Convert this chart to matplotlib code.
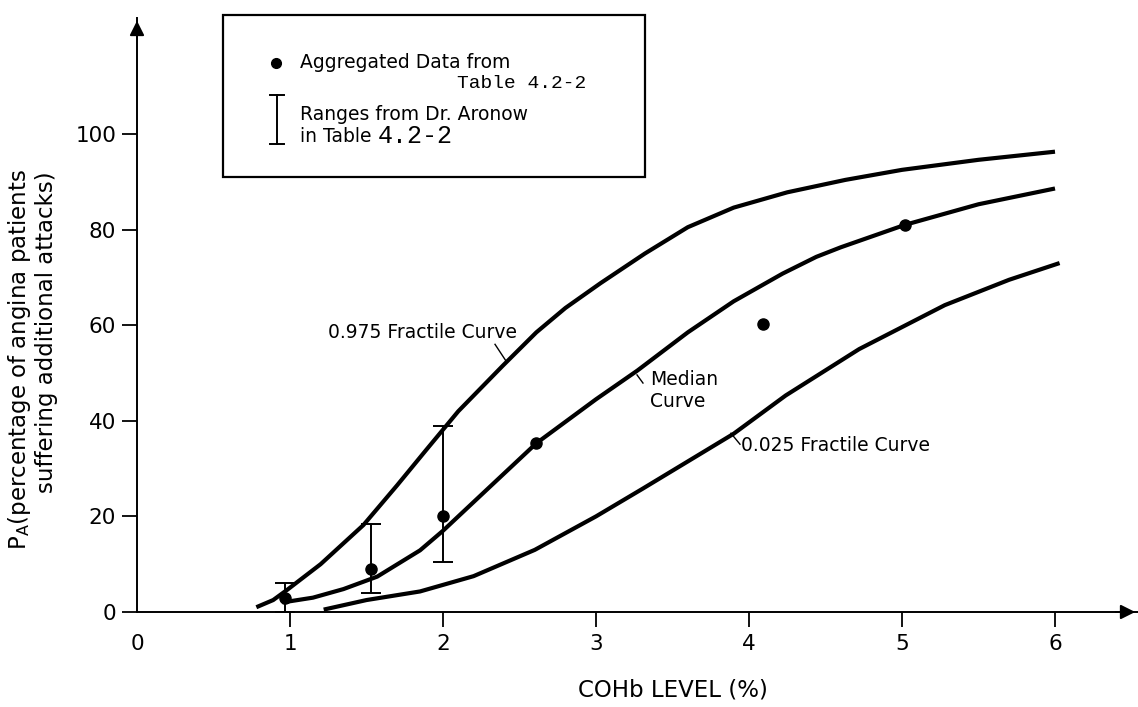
import numpy as np
import matplotlib.pyplot as plt
from matplotlib.lines import Line2D
from matplotlib.patches import Rectangle

# values
upper_x = [0.78, 0.89, 0.98, 1.2, 1.48, 1.7, 1.89, 2.1, 2.39, 2.61, 2.8, 3.03, 3.32, 3.6, 3.9, 4.25, 4.63, 5.0, 5.5, 6.0]
upper_y = [1.0, 2.5, 4.6, 10.0, 18.2, 26.5, 33.9, 42.0, 51.5, 58.5, 63.6, 68.8, 75.0, 80.5, 84.6, 87.8, 90.4, 92.5, 94.6, 96.3]

median_x = [0.95, 1.15, 1.35, 1.57, 1.85, 2.0, 2.3, 2.61, 3.0, 3.27, 3.6, 3.9, 4.22, 4.44, 4.6, 5.02, 5.5, 6.0]
median_y = [2.0, 3.0, 4.8, 7.4, 12.9, 17.0, 26.0, 35.3, 44.5, 50.5, 58.5, 65.0, 70.8, 74.3, 76.3, 81.0, 85.3, 88.6]

lower_x = [1.22, 1.5, 1.85, 2.2, 2.6, 3.0, 3.3, 3.6, 3.9, 4.24, 4.72, 5.28, 5.7, 6.03]
lower_y = [0.5, 2.5, 4.3, 7.5, 13.0, 20.0, 25.7, 31.5, 37.3, 45.3, 55.0, 64.2, 69.5, 73.0]

dot_x = [0.97, 1.53, 2.0, 2.61, 4.09, 5.02]
dot_y = [3.0, 9.0, 20.0, 35.4, 60.3, 81.0]

err_x = [0.97, 1.53, 2.0]
err_lo = [0.0, 4.0, 10.5]
err_hi = [6.0, 18.5, 39.0]

x_ticks = [0, 1, 2, 3, 4, 5, 6]
y_ticks = [0, 20, 40, 60, 80, 100]

W, H = 1138, 707


def fx(px):
    return px / W


def fy(py):
    return 1 - py / H


fig = plt.figure(figsize=(W / 100, H / 100), dpi=100)
ax = fig.add_axes([fx(137), fy(612), fx(1138) - fx(137), fy(18) - fy(612)])
ax.set_xlim(0, 1001 / 153)
ax.set_ylim(0, 594 / 4.78)

# curves
for cx, cy in [(upper_x, upper_y), (median_x, median_y), (lower_x, lower_y)]:
    ax.plot(cx, cy, color='black', lw=3.0, solid_capstyle='butt')

# ranges
err_mid = [(lo + hi) / 2 for lo, hi in zip(err_lo, err_hi)]
err_half = [(hi - lo) / 2 for lo, hi in zip(err_lo, err_hi)]
ax.errorbar(err_x, err_mid, yerr=err_half, fmt='none', ecolor='black',
            elinewidth=1.4, capsize=7, capthick=1.4, clip_on=False)

# aggregated data
ax.plot(dot_x, dot_y, 'o', color='black', ms=8, clip_on=False)

# axes styling
for side in ['top', 'right']:
    ax.spines[side].set_visible(False)
for side in ['left', 'bottom']:
    ax.spines[side].set_linewidth(1.4)
ax.set_xticks(x_ticks)
ax.set_yticks(y_ticks)
ax.tick_params(direction='out', length=11, width=1.3, labelsize=15.5, pad=4)
ax.tick_params(axis='x', pad=5)
ax.xaxis.get_major_ticks()[0].tick1line.set_visible(False)

ax.annotate('', xy=(1, 0), xytext=(0.975, 0), xycoords='axes fraction',
            arrowprops=dict(arrowstyle='-|>', color='black', lw=1.4, mutation_scale=22))
ax.annotate('', xy=(0, 1), xytext=(0, 0.96), xycoords='axes fraction',
            arrowprops=dict(arrowstyle='-|>', color='black', lw=1.4, mutation_scale=22))

# curve labels
ax.plot([2.34, 2.41], [56.0, 52.6], color='black', lw=1)
ax.text(1.863, 58.4, '0.975 Fractile Curve', ha='center', va='center', fontsize=13.5)
ax.plot([3.268, 3.307], [49.6, 47.9], color='black', lw=1)
ax.text(3.353, 50.6, 'Median\nCurve', ha='left', va='top', fontsize=13.5, linespacing=1.2)
ax.plot([3.882, 3.941], [37.4, 35.1], color='black', lw=1)
ax.text(3.948, 34.8, '0.025 Fractile Curve', ha='left', va='center', fontsize=13.5)

# axis titles
fig.text(fx(20), fy(359), r'P$_\mathregular{A}$(percentage of angina patients',
         rotation=90, ha='center', va='center', fontsize=16.5)
fig.text(fx(47), fy(332), 'suffering additional attacks)',
         rotation=90, ha='center', va='center', fontsize=16.5)
fig.text(fx(137 + 3.5 * 153), fy(690), 'COHb LEVEL (%)', ha='center', va='center', fontsize=16.5)

# legend box
fig.add_artist(Rectangle((fx(223), fy(177)), fx(645) - fx(223), fy(15) - fy(177),
                         transform=fig.transFigure, fill=False, lw=1.6, ec='black'))
fig.add_artist(Line2D([fx(276)], [fy(63)], marker='o', ms=7, color='black',
                      transform=fig.transFigure))
fig.text(fx(300), fy(63), 'Aggregated Data from', va='center', fontsize=13.5)
fig.text(fx(457), fy(84), 'Table 4.2-2', ha='left', va='center', fontsize=14,
         family='Liberation Mono')
fig.add_artist(Line2D([fx(277), fx(277)], [fy(95), fy(144)], lw=1.4, color='black',
                      transform=fig.transFigure))
for cy in [95, 144]:
    fig.add_artist(Line2D([fx(270), fx(284)], [fy(cy), fy(cy)], lw=1.4, color='black',
                          transform=fig.transFigure))
fig.text(fx(300), fy(115), 'Ranges from Dr. Aronow', va='center', fontsize=13.5)
fig.text(fx(300), fy(137), 'in Table', va='center', fontsize=13.5)
fig.text(fx(378), fy(136), '4.2-2', va='center', fontsize=18, family='Liberation Mono')

fig.savefig('out.png', dpi=100)
